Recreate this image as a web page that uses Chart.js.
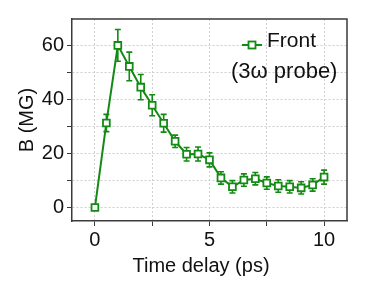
<!DOCTYPE html>
<html>
<head>
<meta charset="utf-8">
<script src="https://cdn.jsdelivr.net/npm/chart.js@4.4.0/dist/chart.umd.min.js"></script>
<style>
html, body { margin: 0; padding: 0; background: #fff; }
</style>
</head>
<body>
<canvas id="myChart" width="374" height="292"></canvas>
<script>
// data
const timeDelay = [0, 0.5, 1, 1.5, 2, 2.5, 3, 3.5, 4, 4.5, 5, 5.5, 6, 6.5, 7, 7.5, 8, 8.5, 9, 9.5, 10];
const bField    = [0, 31.4, 60.2, 52.4, 44.7, 38.0, 31.3, 24.6, 19.8, 19.9, 17.7, 11.0, 7.7, 10.2, 10.7, 9.1, 8.0, 7.7, 7.3, 8.4, 11.3];
const bError    = [0, 3.2, 5.9, 5.3, 4.7, 3.9, 3.3, 2.3, 2.5, 2.6, 2.6, 2.3, 2.3, 2.3, 2.3, 2.3, 2.3, 2.3, 2.3, 2.3, 2.6];

const xTicks = [0, 2.5, 5, 7.5, 10];
const xLabels = [0, 5, 10];
const yTicks = [0, 10, 20, 30, 40, 50, 60];
const yLabels = [0, 20, 40, 60];

const green = '#138a13';
const fontFamily = '"Liberation Sans", Arial, sans-serif';
const axisFont = { family: fontFamily, size: 20 };

// error bars, drawn under the markers
const errorBars = {
    id: 'errorBars',
    beforeDatasetsDraw(chart) {
        const ctx = chart.ctx;
        const xs = chart.scales.x, ys = chart.scales.y;
        ctx.save();
        ctx.strokeStyle = green;
        ctx.lineWidth = 1.6;
        for (let i = 0; i < timeDelay.length; i++) {
            if (!bError[i]) continue;
            const px = xs.getPixelForValue(timeDelay[i]);
            const top = ys.getPixelForValue(bField[i] + bError[i]);
            const bot = ys.getPixelForValue(bField[i] - bError[i]);
            ctx.beginPath();
            ctx.moveTo(px, top); ctx.lineTo(px, bot);
            ctx.moveTo(px - 3, top); ctx.lineTo(px + 3, top);
            ctx.moveTo(px - 3, bot); ctx.lineTo(px + 3, bot);
            ctx.stroke();
        }
        ctx.restore();
    }
};

// box round the plot, x title, legend
const frameAndLegend = {
    id: 'frameAndLegend',
    afterDraw(chart) {
        const ctx = chart.ctx;
        const a = chart.chartArea;
        ctx.save();
        ctx.strokeStyle = '#3a3a3a';
        ctx.lineWidth = 1.5;
        ctx.beginPath();
        ctx.moveTo(a.left, a.top); ctx.lineTo(a.right, a.top); ctx.lineTo(a.right, a.bottom);
        ctx.stroke();

        ctx.fillStyle = '#111';
        ctx.font = '20px ' + fontFamily;
        ctx.textBaseline = 'middle';
        ctx.textAlign = 'center';
        ctx.fillText('Time delay (ps)', 201, 266);

        // legend sample
        ctx.strokeStyle = green;
        ctx.lineWidth = 2;
        ctx.beginPath();
        ctx.moveTo(242, 45); ctx.lineTo(262, 45);
        ctx.stroke();
        ctx.fillStyle = '#fff';
        ctx.fillRect(248.5, 41.5, 7, 7);
        ctx.lineWidth = 1.8;
        ctx.strokeRect(248.5, 41.5, 7, 7);

        ctx.fillStyle = '#111';
        ctx.textAlign = 'left';
        ctx.font = '21px ' + fontFamily;
        ctx.fillText('Front', 267, 41);
        ctx.font = '22px ' + fontFamily;
        ctx.fillText('(3\u03c9 probe)', 231, 72);
        ctx.restore();
    }
};

const ctx = document.getElementById('myChart');

new Chart(ctx, {
    type: 'line',
    data: {
        datasets: [{
            label: 'Front',
            data: timeDelay.map((t, i) => ({ x: t, y: bField[i] })),
            borderColor: green,
            borderWidth: 2,
            backgroundColor: '#fff',
            pointStyle: 'rect',
            pointRadius: 4.8,
            pointBorderWidth: 1.8,
            pointBackgroundColor: '#fff',
            pointBorderColor: green,
            tension: 0
        }]
    },
    options: {
        responsive: false,
        animation: false,
        devicePixelRatio: 1,
        layout: { padding: { top: 19, right: 27, left: 0, bottom: 0 } },
        plugins: {
            legend: { display: false },
            tooltip: { enabled: false }
        },
        scales: {
            x: {
                type: 'linear',
                min: -1,
                max: 11,
                afterBuildTicks: (scale) => { scale.ticks = xTicks.map(v => ({ value: v })); },
                afterFit: (scale) => { scale.height = 71; },
                ticks: {
                    autoSkip: false,
                    maxRotation: 0,
                    padding: 2,
                    color: '#111',
                    font: axisFont,
                    callback: (v) => xLabels.includes(v) ? String(v) : ''
                },
                grid: {
                    color: '#cfcfcf',
                    tickColor: '#3a3a3a',
                    tickLength: 5,
                    lineWidth: 1
                },
                border: { color: '#3a3a3a', width: 1.5, dash: [2, 2] }
            },
            y: {
                type: 'linear',
                min: -5,
                max: 70,
                afterBuildTicks: (scale) => { scale.ticks = yTicks.map(v => ({ value: v })); },
                afterFit: (scale) => { scale.width = 72; },
                ticks: {
                    autoSkip: false,
                    padding: 3,
                    color: '#111',
                    font: axisFont,
                    callback: (v) => yLabels.includes(v) ? String(v) : ''
                },
                grid: {
                    color: '#cfcfcf',
                    tickColor: '#3a3a3a',
                    tickLength: 5,
                    lineWidth: 1
                },
                border: { color: '#3a3a3a', width: 1.5, dash: [2, 2] },
                title: {
                    display: true,
                    text: 'B (MG)',
                    color: '#111',
                    font: axisFont,
                    padding: { top: 15, bottom: 0 }
                }
            }
        }
    },
    plugins: [errorBars, frameAndLegend]
});
</script>
</body>
</html>
